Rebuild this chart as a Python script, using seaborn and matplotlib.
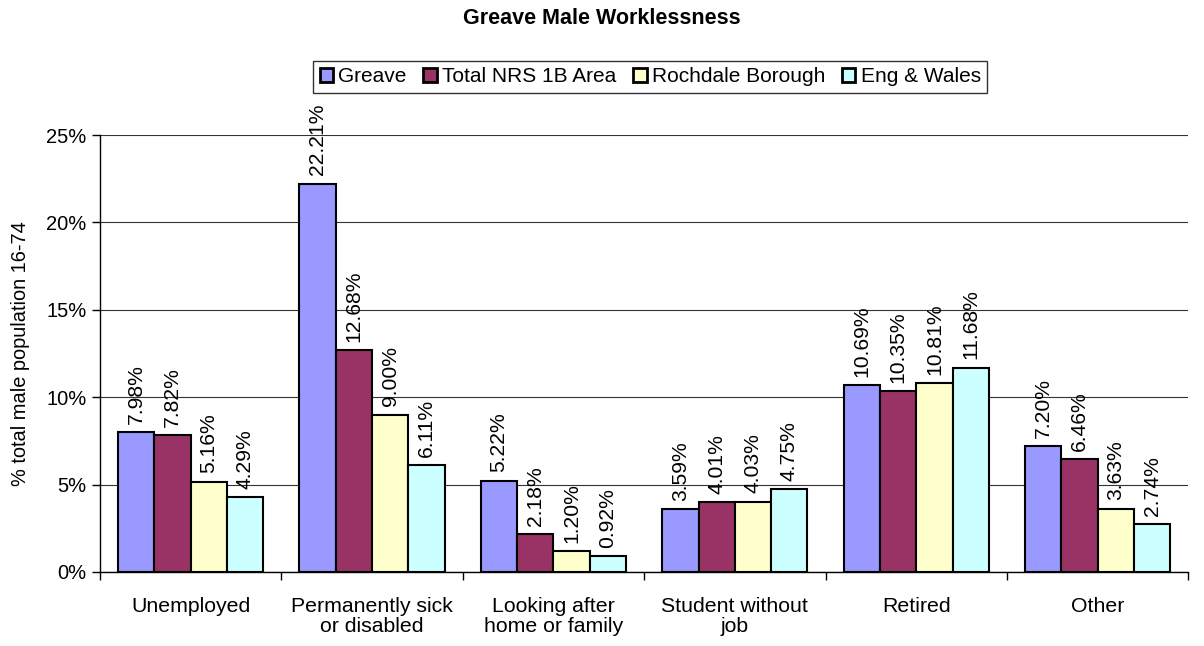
import matplotlib
matplotlib.use("Agg")
import matplotlib.pyplot as plt
import seaborn as sns
import pandas as pd
import numpy as np
from matplotlib.ticker import FixedLocator, PercentFormatter

categories = ["Unemployed", "Permanently sick\nor disabled", "Looking after\nhome or family",
              "Student without\njob", "Retired", "Other"]
series_names = ["Greave", "Total NRS 1B Area", "Rochdale Borough", "Eng & Wales"]
greave = [7.98, 22.21, 5.22, 3.59, 10.69, 7.20]
nrs = [7.82, 12.68, 2.18, 4.01, 10.35, 6.46]
rochdale = [5.16, 9.00, 1.20, 4.03, 10.81, 3.63]
engwales = [4.29, 6.11, 0.92, 4.75, 11.68, 2.74]
colors = ["#9999FF", "#993366", "#FFFFCC", "#CCFFFF"]

rows = []
for name, vals in zip(series_names, [greave, nrs, rochdale, engwales]):
    for c, v in zip(categories, vals):
        rows.append({"category": c, "series": name, "value": v})
df = pd.DataFrame(rows)

sns.set_theme(style="white")
plt.rcParams['font.family'] = ['Liberation Sans', 'DejaVu Sans']
plt.rcParams['text.color'] = 'black'
plt.rcParams['axes.labelcolor'] = 'black'
plt.rcParams['xtick.color'] = 'black'
plt.rcParams['ytick.color'] = 'black'

fig = plt.figure(figsize=(12.04, 6.46), dpi=100)
ax = fig.add_axes([0.083, 0.1146, 0.904, 0.6764])

sns.barplot(data=df, x="category", y="value", hue="series", palette=colors,
            order=categories, hue_order=series_names, width=0.8,
            edgecolor="black", linewidth=1.5, ax=ax, legend=True, saturation=1)

for cont in ax.containers:
    labels = [f"{v:.2f}%" for v in cont.datavalues]
    ax.bar_label(cont, labels=labels, rotation=90, padding=6, fontsize=15.2, color="black")

ax.set_ylim(0, 25)
ax.set_xlim(-0.5, 5.5)
ax.yaxis.set_major_locator(FixedLocator([0, 5, 10, 15, 20, 25]))
ax.yaxis.set_major_formatter(PercentFormatter(decimals=0))
ax.grid(axis="y", color="#333333", linewidth=0.8)
ax.set_axisbelow(True)
ax.set_xlabel("")
ax.set_ylabel("% total male population 16-74", fontsize=14.4, labelpad=12)
ax.tick_params(axis="y", labelsize=14.5, left=True, direction="out", length=6, width=1, color="black")
ax.tick_params(axis="x", labelsize=15.3, bottom=False, pad=12)
for t in ax.get_xticklabels():
    t.set_linespacing(1.1)
ax.xaxis.set_minor_locator(FixedLocator(np.arange(-0.5, 6.0, 1.0)))
ax.tick_params(axis="x", which="minor", bottom=True, direction="out", length=6, width=1, color="black")
for s in ["top", "right"]:
    ax.spines[s].set_visible(False)
for s in ["left", "bottom"]:
    ax.spines[s].set_color("black")
    ax.spines[s].set_linewidth(1)

handles, labs = ax.get_legend_handles_labels()
for h in handles:
    h.set_linewidth(2)
leg = ax.legend(handles, labs, loc="upper center", bbox_to_anchor=(0.5055, 1.169), ncol=4,
                fontsize=15, frameon=True, fancybox=False, edgecolor="black",
                handlelength=0.65, handleheight=0.65, handletextpad=0.25, columnspacing=0.8,
                borderpad=0.3, borderaxespad=0)
leg.get_frame().set_linewidth(1)

fig.text(0.5, 0.971, "Greave Male Worklessness", ha="center", va="center",
         fontsize=15.5, fontweight="bold")

fig.savefig("out.png", dpi=100, facecolor="white")
